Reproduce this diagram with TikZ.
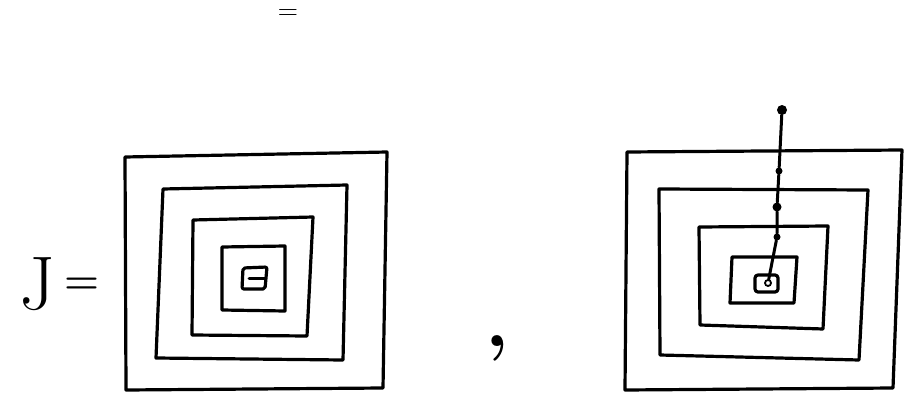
\documentclass[tikz,border=0pt]{standalone}
\usepackage{fontspec}
\begin{document}
\begin{tikzpicture}[x=1pt,y=-1pt,
  wall/.style={line width=3.2pt,line join=round,line cap=round},
  stroke/.style={line width=3pt,line cap=round},
  bead/.style={circle,fill=black,inner sep=0pt,minimum size=#1},
  ring/.style={circle,draw=black,line width=1.8pt,inner sep=0pt,minimum size=6pt},
  txt/.style={inner sep=0pt,outer sep=0pt}]
\useasboundingbox (0,0) rectangle (905,396);
% top mark
\node[txt,anchor=base] (topmark) at (288,20) {\fontsize{28}{28}\selectfont =};
% label
\node[txt] (J) at (37,284) {\fontsize{76}{80}\selectfont J};
\node[txt] (eq) at (82,286) {\fontsize{40}{40}\selectfont\bfseries =};
% left nest
\draw[wall] (125,157) -- (387,152) -- (383,388) -- (126,390) -- cycle;
\draw[wall] (163,189) -- (347,185) -- (343,360) -- (156,358) -- cycle;
\draw[wall] (193,220) -- (313,217) -- (307,336) -- (192,335) -- cycle;
\draw[wall] (222,247) -- (285,246) -- (285,311) -- (222,310) -- cycle;
\draw[wall,rounded corners=2pt] (243,268) -- (267,267) -- (265,289) -- (242,289) -- cycle;
\coordinate (m1) at (249,278);
\coordinate (m2) at (265,278);
\draw[stroke] (m1) -- (m2);
% comma
\node[txt] (comma) at (497,348) {\fontsize{76}{76}\selectfont\bfseries ,};
% right nest
\draw[wall] (627,152) -- (902,150) -- (893,388) -- (625,390) -- cycle;
\draw[wall] (659,189) -- (868,190) -- (859,360) -- (660,355) -- cycle;
\draw[wall] (699,227) -- (828,226) -- (823,329) -- (700,325) -- cycle;
\draw[wall] (732,257) -- (797,257) -- (794,303) -- (730,303) -- cycle;
\draw[wall,rounded corners=3pt] (755,275) -- (778,275) -- (778,292) -- (755,292) -- cycle;
% path with beads
\node[bead=10pt] (b0) at (782,110) {};
\node[bead=7pt] (b1) at (779,171) {};
\node[bead=9pt] (b2) at (777,207) {};
\node[bead=7pt] (b3) at (777,237) {};
\node[ring] (b4) at (768,283) {};
\draw[stroke] (b0) -- (b1) -- (b2) -- (b3) -- (b4);
\end{tikzpicture}
\end{document}
